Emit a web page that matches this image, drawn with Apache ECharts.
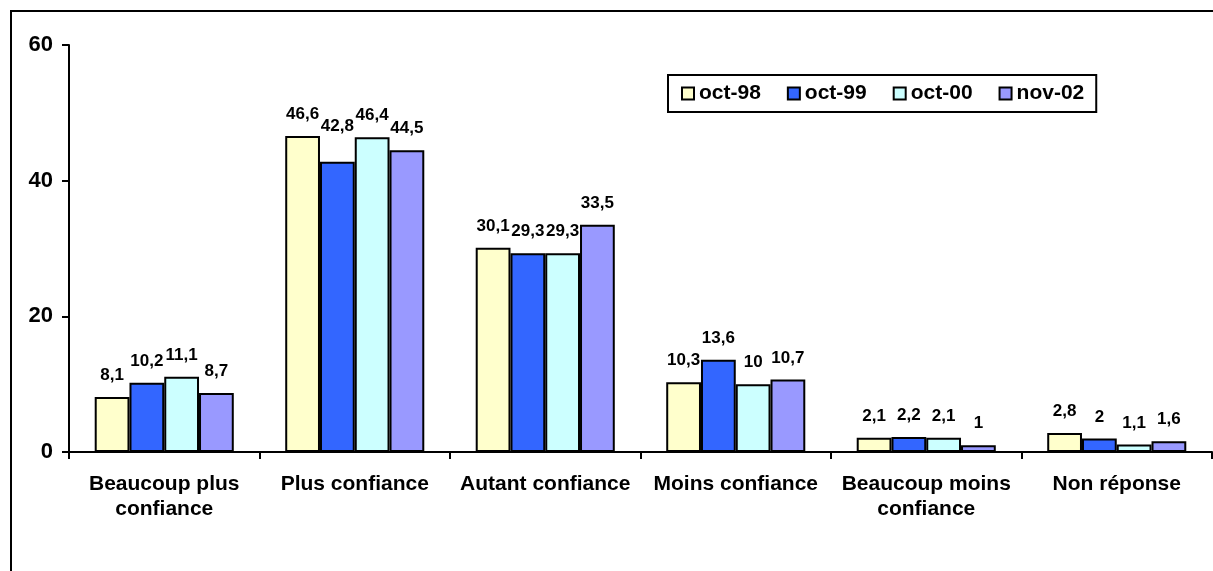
<!DOCTYPE html>
<html>
<head>
<meta charset="utf-8">
<script src="https://cdn.jsdelivr.net/npm/echarts@6/dist/echarts.min.js"></script>
<style>
  html, body { margin: 0; padding: 0; background: #fff; overflow: hidden; }
  #chart { width: 1213px; height: 571px; }
</style>
</head>
<body>
<div id="chart"></div>
<script>
// categories and series
const categories = ['Beaucoup plus\nconfiance', 'Plus confiance', 'Autant confiance', 'Moins confiance', 'Beaucoup moins\nconfiance', 'Non réponse'];
const seriesNames = ['oct-98', 'oct-99', 'oct-00', 'nov-02'];
const oct98 = [8.1, 46.6, 30.1, 10.3, 2.1, 2.8];
const oct99 = [10.2, 42.8, 29.3, 13.6, 2.2, 2];
const oct00 = [11.1, 46.4, 29.3, 10, 2.1, 1.1];
const nov02 = [8.7, 44.5, 33.5, 10.7, 1, 1.6];
const colors = ['#FFFFCC', '#3366FF', '#CCFFFF', '#9999FF'];

const font = 'Liberation Sans, Arial, sans-serif';
const chart = echarts.init(document.getElementById('chart'));

const allData = [oct98, oct99, oct00, nov02];
const series = [];
for (let i = 0; i < allData.length; i++) {
  let data = allData[i].map(v => v);
  // the 42,8 label sits higher in the original (moved by hand)
  if (i == 1) {
    data[1] = { value: allData[i][1], label: { offset: [0, -14] } };
  }
  series.push({
    name: seriesNames[i],
    type: 'bar',
    data: data,
    barGap: '0%',
    barCategoryGap: '27%',
    itemStyle: { color: colors[i], borderColor: '#000', borderWidth: 2 },
    label: {
      show: true,
      position: 'top',
      distance: 13,
      color: '#000',
      fontFamily: font,
      fontWeight: 'bold',
      fontSize: 17,
      formatter: p => String(p.value).replace('.', ',')
    }
  });
}

const option = {
  animation: false,
  color: colors,
  graphic: [{
    type: 'rect',
    shape: { x: 11, y: 11, width: 1400, height: 800 },
    style: { fill: 'none', stroke: '#000', lineWidth: 2 },
    silent: true
  }],
  legend: {
    left: 668,
    top: 75,
    padding: [8, 12, 8, 13],
    itemWidth: 12,
    itemHeight: 12,
    itemGap: 26,
    icon: 'rect',
    borderColor: '#000',
    borderWidth: 2,
    textStyle: { fontFamily: font, fontWeight: 'bold', fontSize: 21, color: '#000' },
    data: seriesNames.map(n => ({ name: n, itemStyle: { borderColor: '#000', borderWidth: 2 } }))
  },
  grid: { left: 69, right: 1, top: 45, bottom: 119, containLabel: false },
  xAxis: {
    type: 'category',
    data: categories,
    axisLine: { lineStyle: { color: '#000', width: 2 } },
    axisTick: { show: true, length: 7, lineStyle: { color: '#000', width: 2 } },
    axisLabel: {
      color: '#000', fontFamily: font, fontWeight: 'bold', fontSize: 21,
      margin: 20, lineHeight: 25, interval: 0
    }
  },
  yAxis: {
    type: 'value',
    min: 0,
    max: 60,
    interval: 20,
    splitLine: { show: false },
    axisLine: { show: true, lineStyle: { color: '#000', width: 2 } },
    axisTick: { show: true, length: 7, lineStyle: { color: '#000', width: 2 } },
    axisLabel: { color: '#000', fontFamily: font, fontWeight: 'bold', fontSize: 22, margin: 16 }
  },
  series: series
};
chart.setOption(option);
</script>
</body>
</html>
